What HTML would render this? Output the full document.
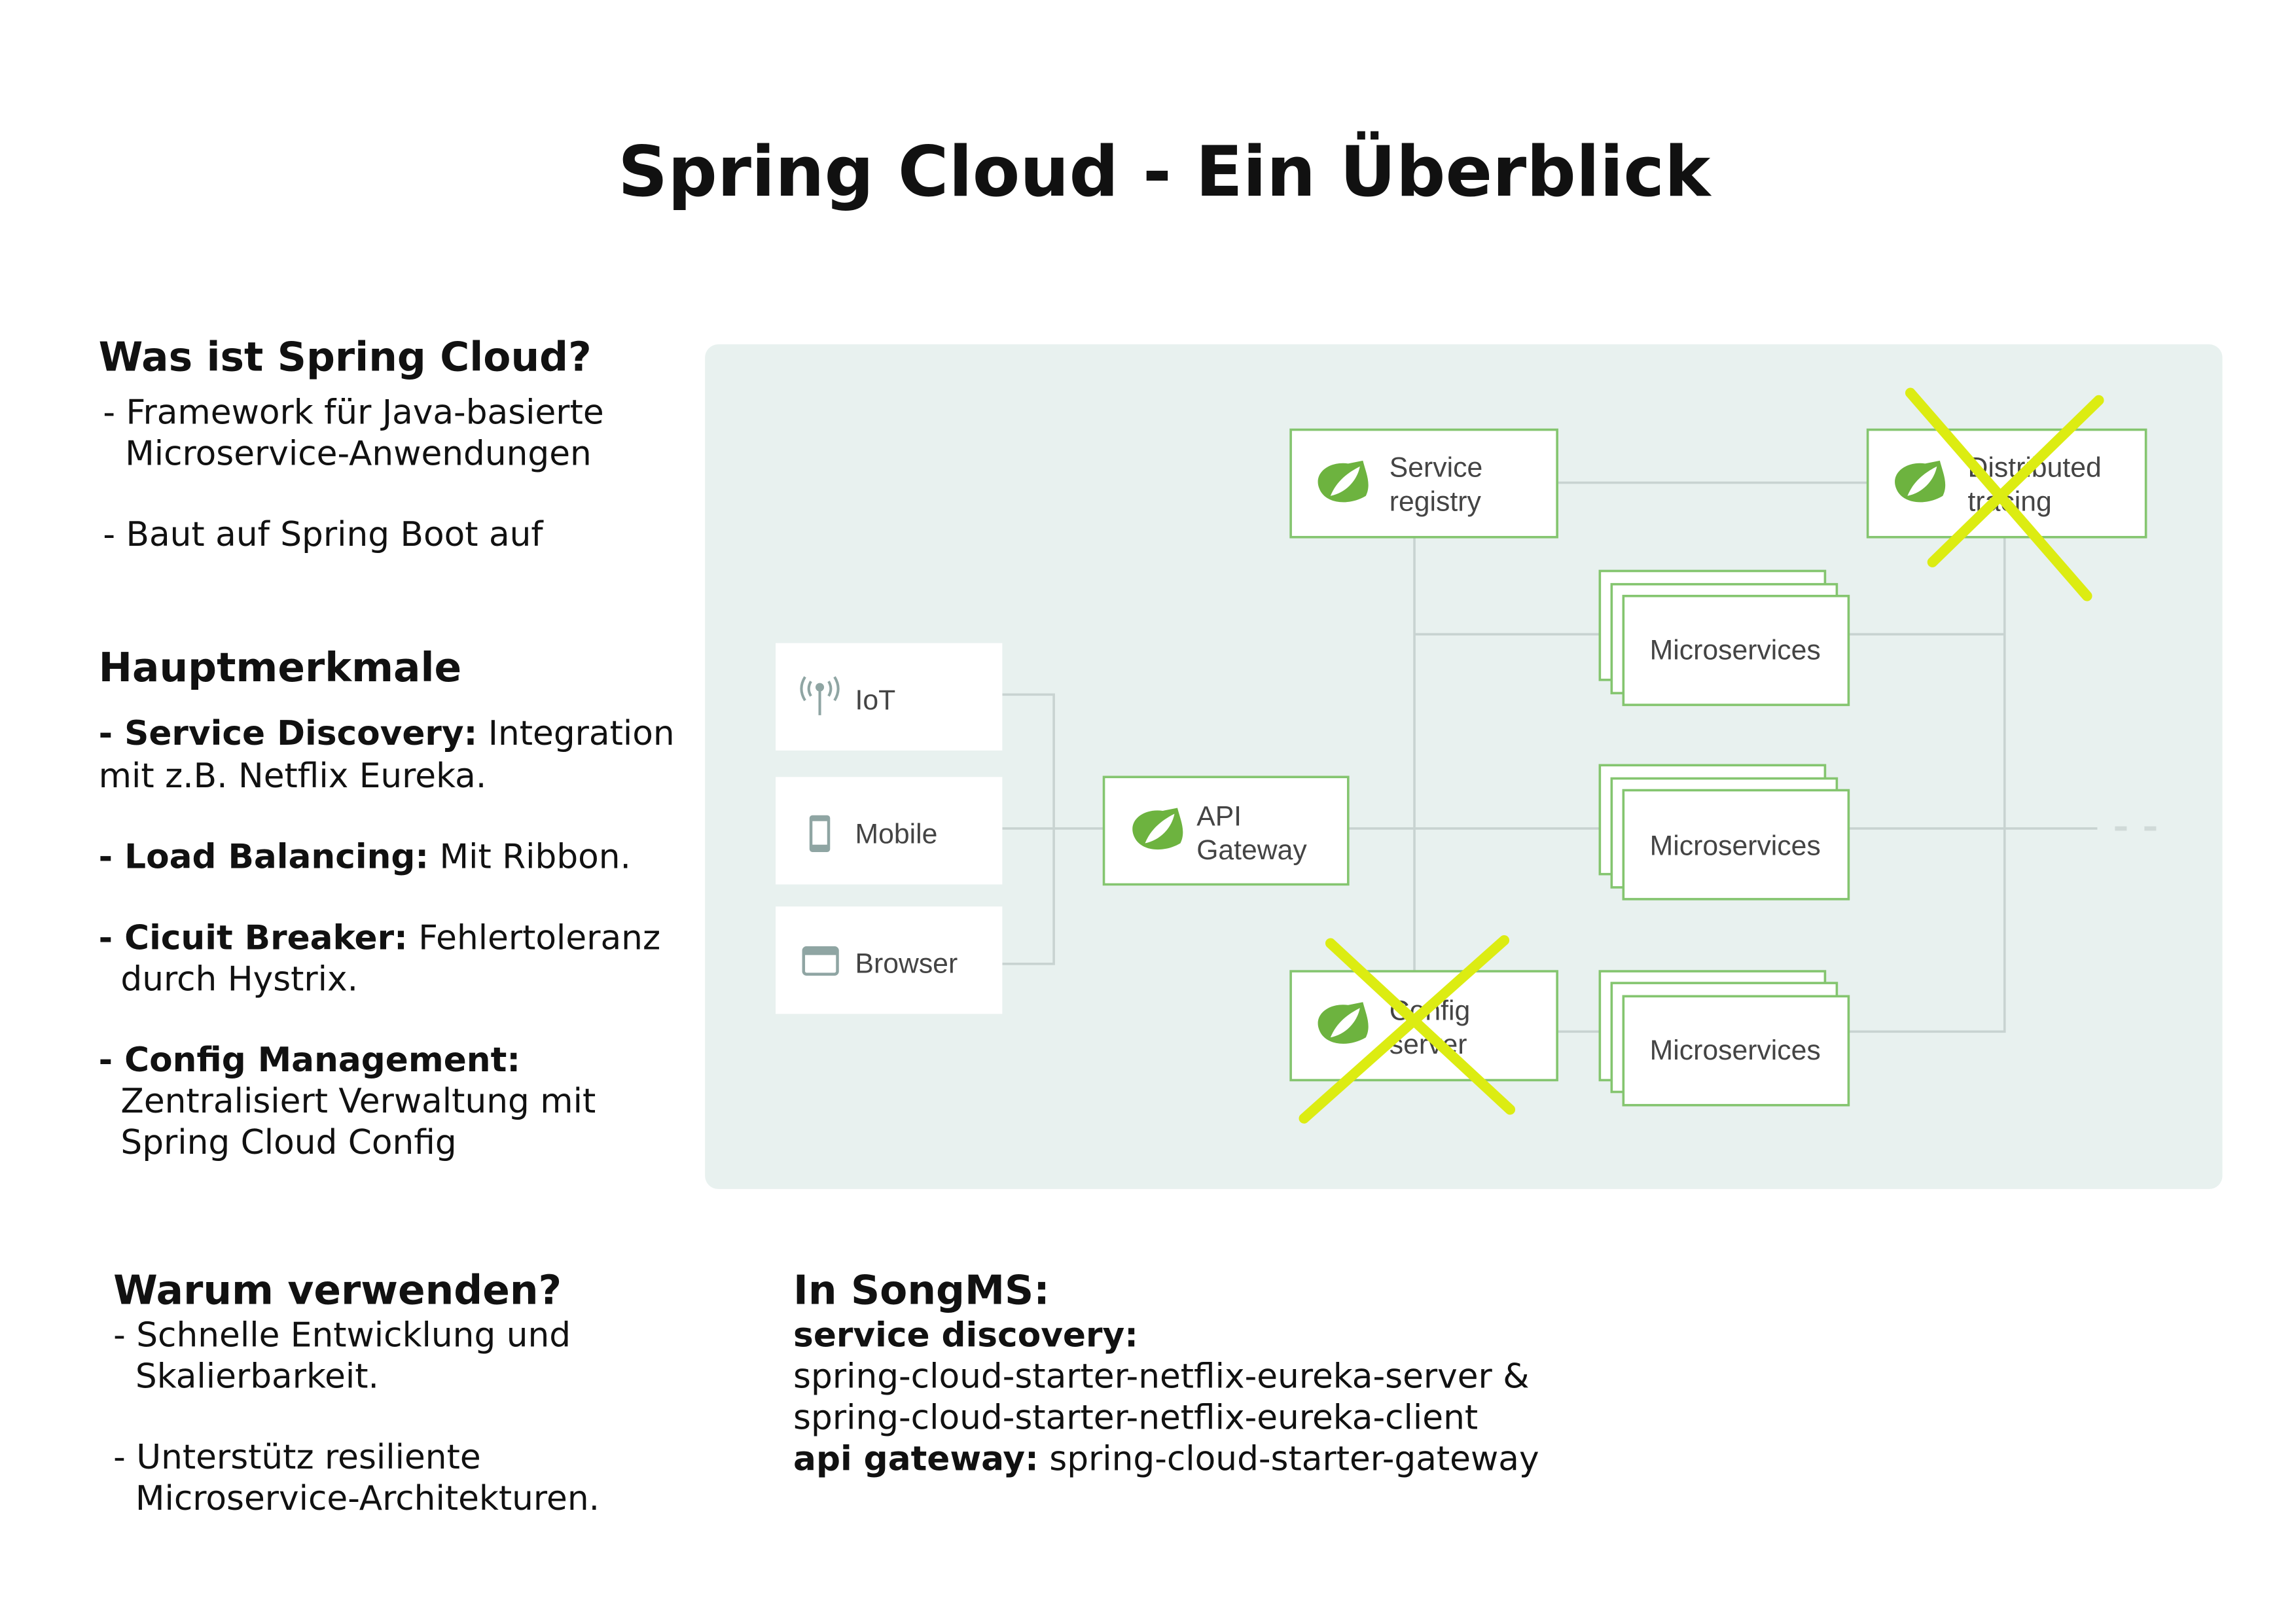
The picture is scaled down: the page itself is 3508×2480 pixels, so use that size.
<!DOCTYPE html>
<html><head><meta charset="utf-8"><style>
html,body{margin:0;padding:0;background:#fff;}
svg{display:block;}
.t{font-family:"DejaVu Sans",sans-serif;fill:#111;}
.b{font-size:23px;}
.h{font-size:27.3px;font-weight:bold;}
.n{font-family:"Liberation Sans",sans-serif;font-size:19px;fill:#444;}
.box{fill:#fff;stroke:#84c56f;stroke-width:1.6;}
.ln{stroke:#c8d3d1;stroke-width:1.6;fill:none;}
.x{stroke:#dcec12;stroke-width:7;stroke-linecap:round;}
</style></head><body>
<svg width="3508" height="2480" viewBox="0 0 1560 1102.9" preserveAspectRatio="none" xmlns="http://www.w3.org/2000/svg">
<defs>
<g id="logo">
<path d="M-14,6 C-22,-6 -10,-16 4,-14 L14,-16 C16,-8 20,0 16,8 C6,14 -8,14 -14,6 Z" fill="#6db33f"/>
<path d="M-8,8 C-4,-2 4,-8 12,-12 C10,-2 2,6 -8,8 Z" fill="#fff"/>
</g>
</defs>
<text class="t" x="791" y="133" text-anchor="middle" font-size="47" font-weight="bold">Spring Cloud - Ein Überblick</text>

<text class="t h" x="67" y="252">Was ist Spring Cloud?</text>
<text class="t b" x="70" y="288">- Framework für Java-basierte</text>
<text class="t b" x="85" y="316">Microservice-Anwendungen</text>
<text class="t b" x="70" y="371">- Baut auf Spring Boot auf</text>

<text class="t h" x="67" y="463">Hauptmerkmale</text>
<text class="t b" x="67" y="506"><tspan font-weight="bold">- Service Discovery:</tspan> Integration</text>
<text class="t b" x="67" y="535">mit z.B. Netflix Eureka.</text>
<text class="t b" x="67" y="590"><tspan font-weight="bold">- Load Balancing:</tspan> Mit Ribbon.</text>
<text class="t b" x="67" y="645"><tspan font-weight="bold">- Cicuit Breaker:</tspan> Fehlertoleranz</text>
<text class="t b" x="82" y="673">durch Hystrix.</text>
<text class="t b" x="67" y="728" font-weight="bold">- Config Management:</text>
<text class="t b" x="82" y="756">Zentralisiert Verwaltung mit</text>
<text class="t b" x="82" y="784">Spring Cloud Config</text>

<text class="t h" x="77" y="886">Warum verwenden?</text>
<text class="t b" x="77" y="915">- Schnelle Entwicklung und</text>
<text class="t b" x="92" y="943">Skalierbarkeit.</text>
<text class="t b" x="77" y="998">- Unterstütz resiliente</text>
<text class="t b" x="92" y="1026">Microservice-Architekturen.</text>

<text class="t h" x="539" y="886">In SongMS:</text>
<text class="t b" x="539" y="915" font-weight="bold">service discovery:</text>
<text class="t b" x="539" y="943">spring-cloud-starter-netflix-eureka-server &amp;</text>
<text class="t b" x="539" y="971">spring-cloud-starter-netflix-eureka-client</text>
<text class="t b" x="539" y="999"><tspan font-weight="bold">api gateway:</tspan> spring-cloud-starter-gateway</text>

<rect x="479" y="234" width="1031" height="574" rx="9" fill="#e8f1ef"/>

<path class="ln" d="M1058,328 H1269 M961,365 V660 M961,431 H1087 M681,563 H1087 M681,472 H716 V655 H681 M1256,431 H1362 M1362,365 V701 H1256 M1256,563 H1425 M1058,701 H1087"/>
<path d="M1437,563 H1445 M1457,563 H1465" stroke="#d0dad8" stroke-width="3"/>

<rect x="527" y="437" width="154" height="73" fill="#fff"/>
<rect x="527" y="528" width="154" height="73" fill="#fff"/>
<rect x="527" y="616" width="154" height="73" fill="#fff"/>
<g stroke="#8fa5a3" stroke-width="1.8" fill="none">
<path d="M557,466 V486"/><circle cx="557" cy="467" r="2" fill="#8fa5a3"/>
<path d="M551,463 q-3,5 0,10 M563,463 q3,5 0,10 M547,460 q-5,8 0,16 M567,460 q5,8 0,16"/>
</g>
<rect x="550" y="554" width="14" height="25" rx="2" fill="#8fa5a3"/>
<rect x="552" y="558" width="10" height="16" fill="#fff"/>
<rect x="546" y="644" width="23" height="18" rx="2" fill="none" stroke="#8fa5a3" stroke-width="2"/>
<rect x="546" y="644" width="23" height="5" fill="#8fa5a3"/>
<text class="n" x="581" y="482">IoT</text>
<text class="n" x="581" y="573">Mobile</text>
<text class="n" x="581" y="661">Browser</text>

<rect class="box" x="877" y="292" width="181" height="73"/>
<use href="#logo" x="912" y="329"/>
<text class="n" x="944" y="324">Service</text><text class="n" x="944" y="347">registry</text>

<rect class="box" x="1269" y="292" width="189" height="73"/>
<use href="#logo" x="1304" y="329"/>
<text class="n" x="1337" y="324">Distributed</text><text class="n" x="1337" y="347">tracing</text>

<rect class="box" x="750" y="528" width="166" height="73"/>
<use href="#logo" x="786" y="565"/>
<text class="n" x="813" y="561">API</text><text class="n" x="813" y="584">Gateway</text>

<rect class="box" x="877" y="660" width="181" height="74"/>
<use href="#logo" x="912" y="697"/>
<text class="n" x="944" y="693">Config</text><text class="n" x="944" y="716">server</text>

<g>
<rect class="box" x="1087" y="388" width="153" height="74"/>
<rect class="box" x="1095" y="397" width="153" height="74"/>
<rect class="box" x="1103" y="405" width="153" height="74"/>
<text class="n" x="1179" y="448" text-anchor="middle">Microservices</text>
</g>
<g>
<rect class="box" x="1087" y="520" width="153" height="74"/>
<rect class="box" x="1095" y="529" width="153" height="74"/>
<rect class="box" x="1103" y="537" width="153" height="74"/>
<text class="n" x="1179" y="581" text-anchor="middle">Microservices</text>
</g>
<g>
<rect class="box" x="1087" y="660" width="153" height="74"/>
<rect class="box" x="1095" y="668" width="153" height="74"/>
<rect class="box" x="1103" y="677" width="153" height="74"/>
<text class="n" x="1179" y="720" text-anchor="middle">Microservices</text>
</g>

<path class="x" d="M1298,267 L1418,405 M1426,272 L1313,382 M904,641 L1026,754 M1022,639 L886,760"/>
</svg>
</body></html>
